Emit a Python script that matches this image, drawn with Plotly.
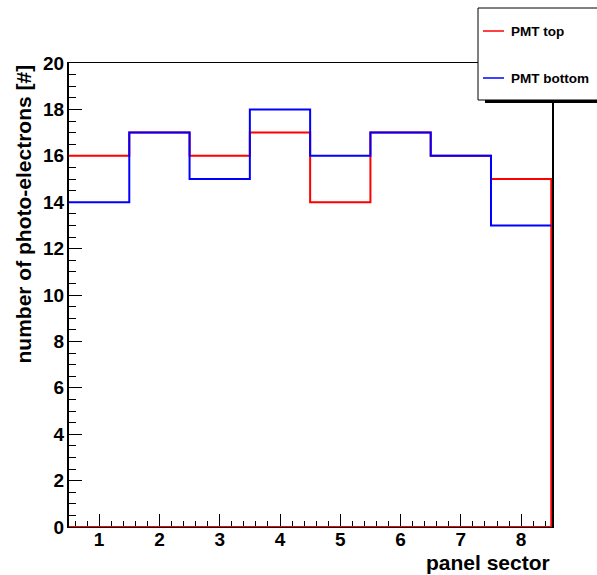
import plotly.graph_objects as go

# ---- data ----
sectors = [1, 2, 3, 4, 5, 6, 7, 8]
pmt_top = [16, 17, 16, 17, 14, 17, 16, 15]
pmt_bottom = [14, 17, 15, 18, 16, 17, 16, 13]
tick_labels = ["1", "2", "3", "4", "5", "6", "7", "8"]

W, H = 597, 575
ML, MR, MT, MB = 69, 45, 63, 48
PW, PH = W - ML - MR, H - MT - MB


def px(x):
    return (x - ML) / PW


def py(y):
    return (H - MB - y) / PH


def steps(cats, vals, close=False):
    xs, ys = [], []
    for c, v in zip(cats, vals):
        xs += [c - 0.5, c + 0.5]
        ys += [v, v]
    if close:
        xs += [cats[-1] + 0.5, cats[0] - 0.5]
        ys += [0, 0]
    return xs, ys


fig = go.Figure()
xr, yr = steps(sectors, pmt_top, close=True)
fig.add_trace(go.Scatter(x=xr, y=yr, mode="lines", name="PMT top",
                         line=dict(color="#ff0000", width=2), showlegend=False))
xb, yb = steps(sectors, pmt_bottom)
fig.add_trace(go.Scatter(x=xb, y=yb, mode="lines", name="PMT bottom",
                         line=dict(color="#0000ff", width=2), showlegend=False))

FAM = "Liberation Sans, Arial, sans-serif"
font = dict(family=FAM, color="black")

fig.update_layout(
    width=W, height=H,
    margin=dict(l=ML, r=MR, t=MT, b=MB, pad=0),
    paper_bgcolor="white", plot_bgcolor="white",
    font=font,
    xaxis=dict(range=[0.5, 8.512], tickvals=sectors, ticktext=tick_labels,
               ticks="inside", ticklen=13, tickwidth=1, tickcolor="black",
               minor=dict(dtick=0.2, ticks="inside", ticklen=6, tickcolor="black", tickwidth=1),
               showgrid=False, zeroline=False, showline=True, linecolor="black", linewidth=1,
               mirror=True, layer="below traces",
               tickfont=dict(size=19, weight="bold", family=FAM),
               ticklabelstandoff=-5),
    yaxis=dict(range=[0, 20], dtick=2, tick0=0,
               ticks="inside", ticklen=13, tickwidth=1, tickcolor="black",
               minor=dict(dtick=0.5, ticks="inside", ticklen=7, tickcolor="black", tickwidth=1),
               showgrid=False, zeroline=False, showline=True, linecolor="black", linewidth=2,
               mirror=True, layer="below traces",
               tickfont=dict(size=19, weight="bold", family=FAM),
               ticklabelstandoff=-1),
    showlegend=False,
)

# axis titles
fig.add_annotation(text="number of photo-electrons [#]", xref="paper", yref="paper",
                   x=px(23), y=1.0, xanchor="center", yanchor="top", textangle=-90,
                   showarrow=False, font=dict(size=21, weight="bold", family=FAM))
fig.add_annotation(text="panel sector", xref="paper", yref="paper",
                   x=1.0, y=py(562), xanchor="right", yanchor="middle",
                   showarrow=False, font=dict(size=21, weight="bold", family=FAM))

# legend box (ROOT style with shadow)
fig.add_shape(type="rect", xref="paper", yref="paper",
              x0=px(485), x1=px(600), y0=py(103), y1=py(99),
              fillcolor="black", line=dict(width=0), layer="above")
fig.add_shape(type="rect", xref="paper", yref="paper",
              x0=px(478), x1=px(600), y0=py(100), y1=py(8),
              fillcolor="white", line=dict(color="black", width=1), layer="above")
for yy, col, lab in [(31, "#ff0000", "PMT top"), (78, "#0000ff", "PMT bottom")]:
    fig.add_shape(type="line", xref="paper", yref="paper",
                  x0=px(483), x1=px(504), y0=py(yy), y1=py(yy),
                  line=dict(color=col, width=1.5), layer="above")
    fig.add_annotation(text=lab, xref="paper", yref="paper", x=px(509), y=py(yy),
                       xanchor="left", yanchor="middle", showarrow=False,
                       font=dict(size=13.5, weight="bold", family=FAM))

fig.write_html("out.html", config={"displayModeBar": False},
               post_script="document.body.style.margin='0';document.body.style.overflow='hidden';")
